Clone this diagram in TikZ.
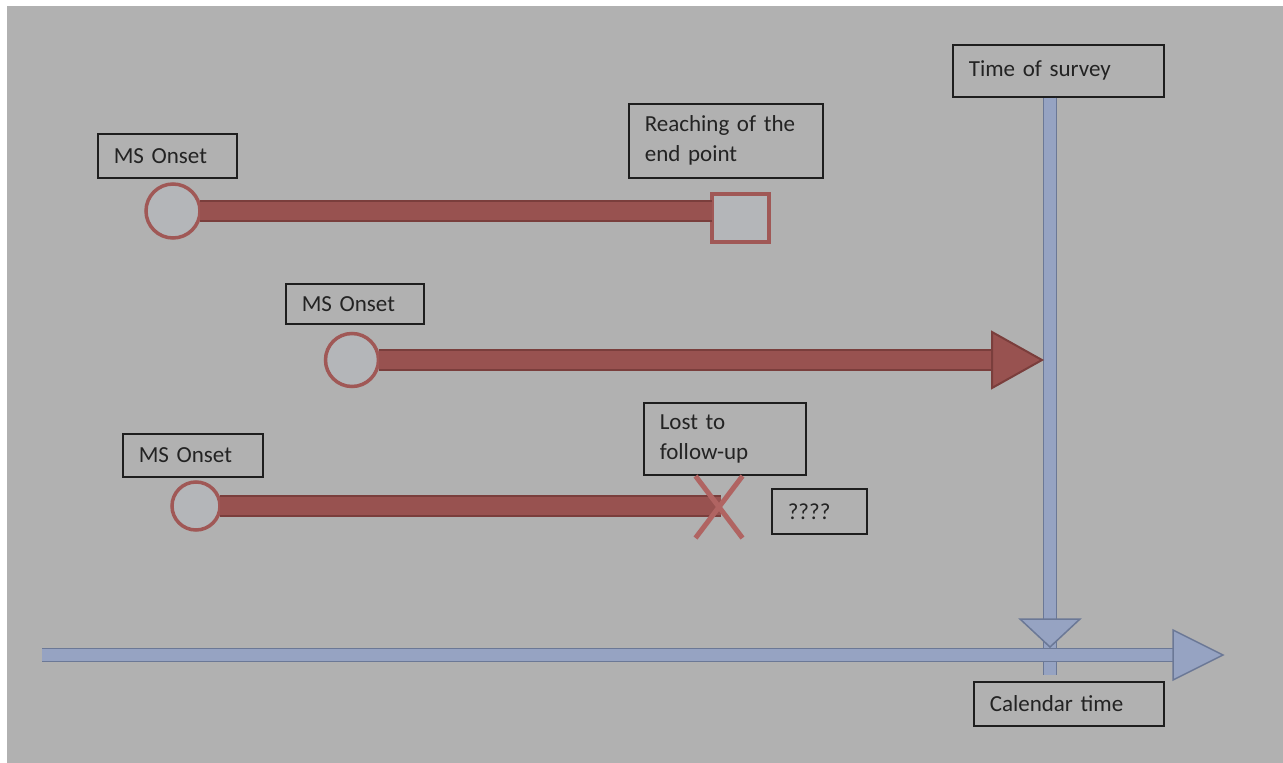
\documentclass[tikz,border=0pt]{standalone}
\usepackage{fontspec}
\setmainfont{Carlito}
\usetikzlibrary{shapes.misc}
\definecolor{bggray}{RGB}{177,177,177}
\definecolor{barred}{RGB}{152,82,80}
\definecolor{bardark}{RGB}{122,62,60}
\definecolor{ringred}{RGB}{160,88,86}
\definecolor{ringfill}{RGB}{180,182,185}
\definecolor{crossred}{RGB}{176,100,98}
\definecolor{bluefill}{RGB}{150,163,194}
\definecolor{bluedark}{RGB}{107,120,150}
\definecolor{boxline}{RGB}{30,30,30}
\definecolor{txt}{RGB}{35,35,35}

\begin{document}
\begin{tikzpicture}[x=1pt,y=-1pt,
	box/.style={draw=boxline,line width=1.6pt,inner xsep=16pt,inner ysep=0pt,align=left,anchor=north west,text=txt,font=\fontsize{23pt}{30pt}\selectfont},
	ring/.style={circle,draw=ringred,fill=ringfill,line width=3.5pt,inner sep=0,outer sep=0},
	endbox/.style={rectangle,draw=ringred,fill=ringfill,line width=3.5pt,inner sep=0,outer sep=0},
	bar/.style={draw=bardark,double=barred,double distance=18pt,line width=2pt},
	head/.style={draw=bardark,fill=barred,line width=2pt},
	timebar/.style={draw=bluedark,double=bluefill,double distance=11.5pt,line width=1.5pt},
	timehead/.style={draw=bluedark,fill=bluefill,line width=1.5pt}]
	\useasboundingbox (0,0) rectangle (1283,763);
	\fill[white] (0,0) rectangle (1283,763);
	\fill[bggray] (7,6) rectangle (1283,763);
	\node[box,text width=107pt,minimum height=44pt] (on1) at (97,133) {MS Onset};
	\node[box,text width=162pt,minimum height=74pt] (ep) at (628,103) {Reaching of the\\end point};
	\node[box,text width=179pt,minimum height=52pt] (ts) at (952,44) {Time of survey};
	\node[box,text width=106pt,minimum height=40pt] (on2) at (285,283) {MS Onset};
	\node[box,text width=108pt,minimum height=43pt] (on3) at (122,433) {MS Onset};
	\node[box,text width=130pt,minimum height=72pt] (lf) at (643,402) {Lost to\\follow-up};
	\node[box,text width=63pt,minimum height=45pt] (qq) at (771,488) {????};
	\node[box,text width=158pt,minimum height=44pt] (ct) at (973,681) {Calendar time};
	\coordinate (sv) at (1050,675);
	\coordinate (sh) at (1050,619);
	\draw[timebar] (ts.south -| sv) -- (sv);
	\draw[timehead] (sh) ++(-30,0) -- ++(60,0) -- ++(-30,28) -- cycle;
	\coordinate (t0) at (42,655);
	\coordinate (t1) at (1173,655);
	\draw[timebar] (t0) -- (t1);
	\draw[timehead] (t1) ++(0,-25) -- ++(50,25) -- ++(-50,25) -- cycle;
	\node[ring,minimum size=54pt] (c1) at (173,211) {};
	\node[endbox,minimum width=57pt,minimum height=48pt] (s1) at (740.5,218) {};
	\draw[bar] (c1.east) -- (c1.east -| s1.west);
	\node[ring,minimum size=53pt] (c2) at (352,360) {};
	\coordinate (h2) at (992,360);
	\draw[bar] (c2.east) -- (h2);
	\draw[head] (h2) ++(0,-28) -- ++(50,28) -- ++(-50,28) -- cycle;
	\node[ring,minimum size=48pt] (c3) at (196,506) {};
	\coordinate (e3) at (721,506);
	\draw[bar] (c3.east) -- (e3);
	\node[cross out,draw=crossred,line width=5pt,inner sep=0,minimum width=42pt,minimum height=57pt] (x3) at (719,507) {};
\end{tikzpicture}
\end{document}
